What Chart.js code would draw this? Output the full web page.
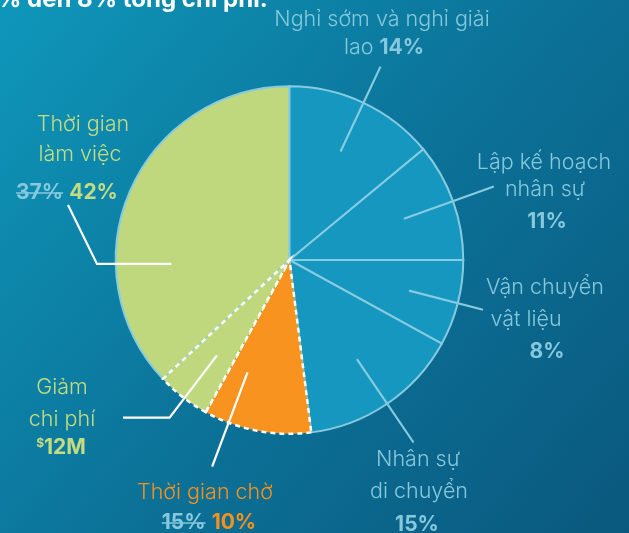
<!DOCTYPE html>
<html>
<head>
<meta charset="utf-8">
<script src="https://cdn.jsdelivr.net/npm/chart.js@4"></script>
<style>
  html, body { margin: 0; padding: 0; background: #0b7ca2; }
  #wrap { width: 629px; height: 533px; position: relative; }
</style>
</head>
<body>
<div id="wrap"><canvas id="pie"></canvas></div>
<script>
// slices, clockwise, starting from the big green one
const categories = ['Thời gian làm việc', 'Nghỉ sớm và nghỉ giải lao', 'Lập kế hoạch nhân sự',
                    'Vận chuyển vật liệu', 'Nhân sự di chuyển', 'Thời gian chờ', 'Giảm chi phí'];
const shares = [37, 14, 11, 8, 15, 10, 5];
const beforeShares = [37, null, null, null, null, 15, null];
const afterShares = [42, 14, 11, 8, 15, 10, null];
const savingsLabel = '12M';
const titleText = '% đến 8% tổng chi phí.';

const BLUE = '#1597bf', EDGE = '#86cbe0', GREEN = '#bfd87d', ORANGE = '#f7931e';
const TXT_BLUE = '#86c8dc', TXT_GREEN = '#c3dc82', TXT_ORANGE = '#f5921e';
const FONT = '"Inter", "Noto Sans", sans-serif';

// where each label sits and how its leader line runs (t = position inside slice, r = radius units)
const layout = [
  { color: TXT_GREEN, line: '#ffffff', xs: [83, 80, 67], ys: [125, 155, 193],
    leader: p => [p(0.31, 0.68), [97, p(0.31, 0.68)[1]], [68, 205]] },
  { color: TXT_BLUE, line: EDGE, xs: [382, 384], ys: [20, 48],
    leader: p => [p(0.5, 0.69), p(0.5, 1.23)] },
  { color: TXT_BLUE, line: EDGE, xs: [544, 545, 547], ys: [163, 190, 222],
    leader: p => [p(0.5, 0.70), p(0.5, 1.25)] },
  { color: TXT_BLUE, line: EDGE, xs: [545, 526, 547], ys: [288, 320, 352],
    leader: p => [p(0.5, 0.71), p(0.5, 1.15)] },
  { color: TXT_BLUE, line: EDGE, xs: [418, 419, 417], ys: [460, 492, 525],
    leader: p => [p(0.5, 0.69), p(0.5, 1.27)] },
  { color: TXT_ORANGE, line: '#ffffff', xs: [205, 209], ys: [493, 523],
    leader: p => [p(0.77, 0.69), p(0.77, 1.27)] },
  { color: TXT_GREEN, line: '#ffffff', xs: [62, 62, 61], ys: [388, 420, 448],
    leader: p => [p(0.47, 0.69), p(0.47, 1.14), [123, p(0.47, 1.14)[1]]] }
];

function labelLines(i) {
  const pct = v => ({ text: v + '%', bold: true });
  const old = v => ({ text: v + '%', bold: true, strike: true, color: TXT_BLUE });
  switch (i) {
    case 0: return [[{ text: 'Thời gian' }], [{ text: 'làm việc' }],
                    [old(beforeShares[0]), { text: ' ' }, pct(afterShares[0])]];
    case 1: return [[{ text: 'Nghỉ sớm và nghỉ giải' }], [{ text: 'lao ' }, pct(afterShares[1])]];
    case 2: return [[{ text: 'Lập kế hoạch' }], [{ text: 'nhân sự' }], [pct(afterShares[2])]];
    case 3: return [[{ text: 'Vận chuyển' }], [{ text: 'vật liệu' }], [pct(afterShares[3])]];
    case 4: return [[{ text: 'Nhân sự' }], [{ text: 'di chuyển' }], [pct(afterShares[4])]];
    case 5: return [[{ text: 'Thời gian chờ' }],
                    [old(beforeShares[5]), { text: ' ' }, pct(afterShares[5])]];
    case 6: return [[{ text: 'Giảm' }], [{ text: 'chi phí' }],
                    [{ text: '$', bold: true, sup: true }, { text: savingsLabel, bold: true }]];
  }
}

function runFont(r) {
  if (r.sup) return '700 12px ' + FONT;
  return (r.bold ? '700 21px ' : '300 21.5px ') + FONT;
}

const backdrop = {
  id: 'backdrop',
  beforeDraw(chart) {
    const { ctx, width, height } = chart;
    const g = ctx.createLinearGradient(0, 0, width, height);
    g.addColorStop(0, '#0e97ba');
    g.addColorStop(0.5, '#0c7399');
    g.addColorStop(1, '#0a587e');
    ctx.save();
    ctx.fillStyle = g;
    ctx.fillRect(0, 0, width, height);
    ctx.fillStyle = '#ffffff';
    ctx.font = '700 24px ' + FONT;
    ctx.textBaseline = 'alphabetic';
    ctx.fillText(titleText, -3, 7);
    ctx.restore();
  }
};

const callouts = {
  id: 'callouts',
  afterDatasetsDraw(chart) {
    const { ctx } = chart;
    const arcs = chart.getDatasetMeta(0).data;
    arcs.forEach((arc, i) => {
      const L = layout[i];
      const { x, y, startAngle, endAngle, outerRadius } = arc.getProps(['x', 'y', 'startAngle', 'endAngle', 'outerRadius'], true);
      const p = (t, r) => {
        const a = startAngle + (endAngle - startAngle) * t;
        return [x + Math.cos(a) * r * outerRadius, y + Math.sin(a) * r * outerRadius];
      };
      const pts = L.leader(p);
      ctx.save();
      ctx.strokeStyle = L.line;
      ctx.lineWidth = 2.2;
      ctx.lineJoin = 'miter';
      ctx.beginPath();
      pts.forEach((q, k) => k ? ctx.lineTo(q[0], q[1]) : ctx.moveTo(q[0], q[1]));
      ctx.stroke();

      ctx.textBaseline = 'middle';
      ctx.textAlign = 'left';
      labelLines(i).forEach((runs, k) => {
        let w = 0;
        runs.forEach(r => { ctx.font = runFont(r); r.w = ctx.measureText(r.text).width; w += r.w; });
        let cx = L.xs[k] - w / 2;
        const cy = L.ys[k];
        runs.forEach(r => {
          ctx.font = runFont(r);
          ctx.fillStyle = r.color || L.color;
          ctx.fillText(r.text, cx, r.sup ? cy - 5 : cy);
          if (r.strike) {
            ctx.strokeStyle = r.color || L.color;
            ctx.lineWidth = 1.6;
            ctx.beginPath();
            ctx.moveTo(cx, cy);
            ctx.lineTo(cx + r.w, cy);
            ctx.stroke();
          }
          cx += r.w;
        });
      });
      ctx.restore();
    });
  }
};

new Chart(document.getElementById('pie'), {
  type: 'pie',
  data: {
    labels: categories,
    datasets: [{
      data: shares,
      backgroundColor: [GREEN, BLUE, BLUE, BLUE, BLUE, ORANGE, GREEN],
      borderColor: [EDGE, EDGE, EDGE, EDGE, EDGE, '#ffffff', '#ffffff'],
      borderWidth: [2, 2, 2, 2, 2, 2.5, 2.5],
      borderDash: ctx => ctx.dataIndex >= 5 ? [5, 4] : [],
      borderJoinStyle: 'miter'
    }]
  },
  options: {
    responsive: true,
    maintainAspectRatio: false,
    animation: false,
    rotation: -(shares[0] / 100) * 360,
    layout: { padding: { left: 114, right: 164, top: 85, bottom: 98 } },
    plugins: { legend: { display: false }, tooltip: { enabled: false } }
  },
  plugins: [backdrop, callouts]
});
</script>
</body>
</html>
